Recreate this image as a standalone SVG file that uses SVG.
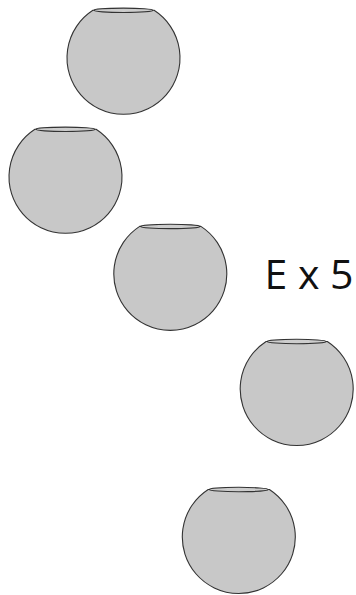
<svg xmlns="http://www.w3.org/2000/svg" width="356" height="595" viewBox="0 0 356 595">
<style>
.body{fill:#c8c8c8;stroke:#333;stroke-width:1.1}
.rim{fill:#cdcdcd;stroke:#333;stroke-width:1.1}
.lbl{font-family:"Open Sans","Noto Sans",sans-serif;font-size:41px;fill:#111}
</style>
<defs>
<g id="bowl">
<path class="body" d="M -30.6 -47.5 A 56.5 56.5 0 1 0 30.6 -47.5 Z"/>
<ellipse class="rim" cx="0" cy="-47.5" rx="29.5" ry="2.2"/>
</g>
</defs>
<rect width="356" height="595" fill="#fff"/>
<g id="bowl1"><use href="#bowl" x="123.5" y="57.8"/></g>
<g id="bowl2"><use href="#bowl" x="65.5" y="176.8"/></g>
<g id="bowl3"><use href="#bowl" x="170.3" y="273.9"/></g>
<g id="bowl4"><use href="#bowl" x="296.7" y="389"/></g>
<g id="bowl5"><use href="#bowl" x="238.8" y="537"/></g>
<g id="connectors"/>
<g id="label"><text class="lbl" x="264.5" y="289.3">E x 5</text></g>
</svg>
